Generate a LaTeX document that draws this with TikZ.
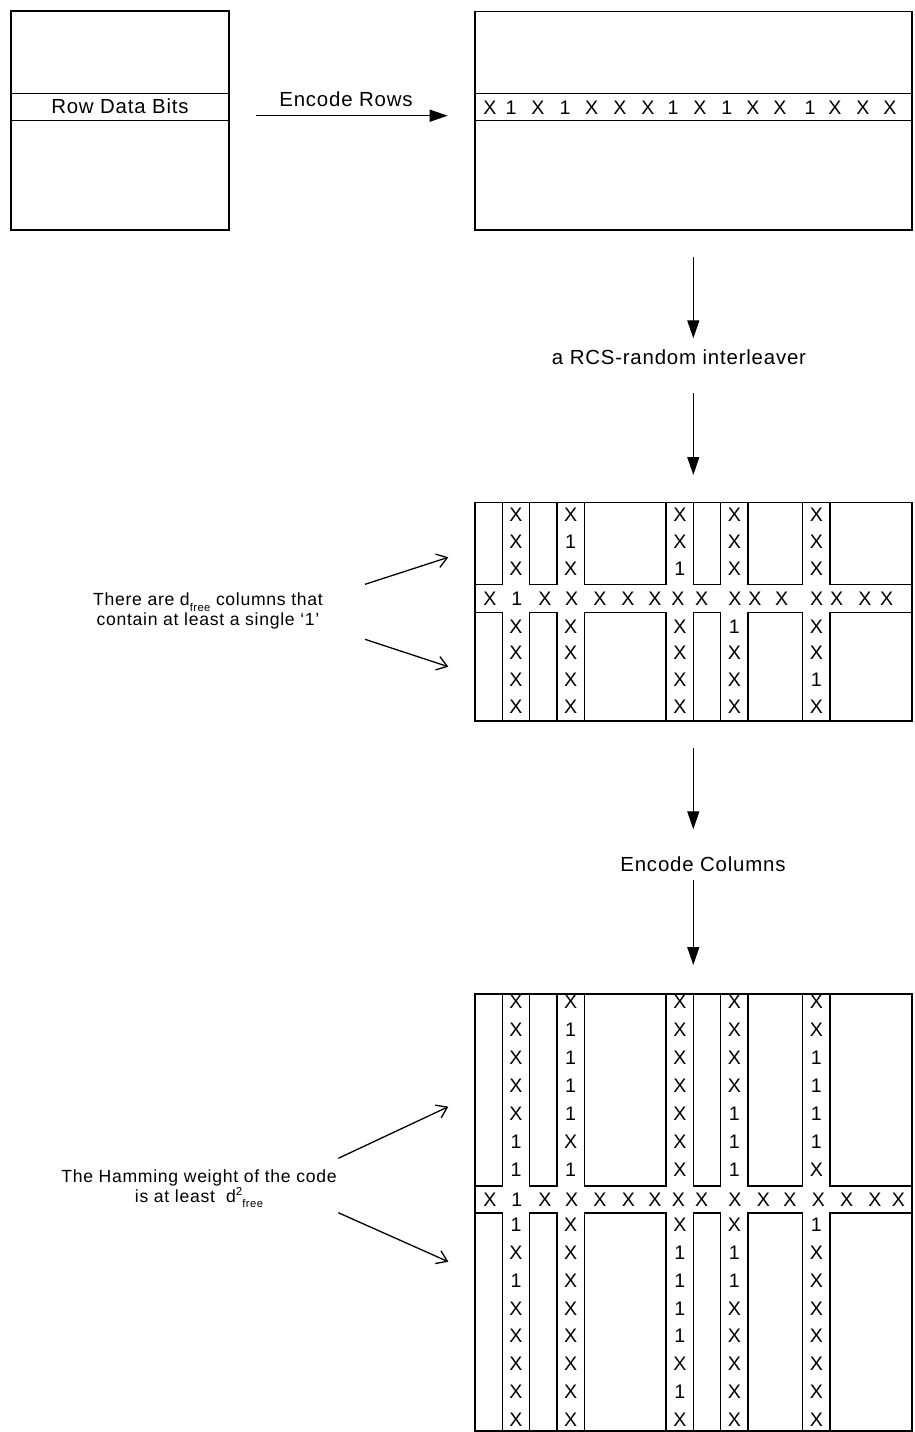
\documentclass[tikz,border=0pt]{standalone}
\usepackage{fontspec}
\setmainfont{Liberation Sans}[LetterSpace=4]
\usetikzlibrary{arrows.meta}
\newcommand{\lowsub}[1]{\raisebox{-0.3em}{\fontsize{5.6}{6}\selectfont #1}}
\newcommand{\highsup}[1]{\raisebox{0.42em}{\fontsize{5.8}{6}\selectfont #1}}

\begin{document}
\begin{tikzpicture}[
  x=0.5pt, y=-0.5pt,
  frame/.style={draw, line width=0.65pt},
  flow/.style={line width=0.65pt, -{Triangle[length=9pt, width=6pt]}},
  hint/.style={line width=0.65pt, -{Straight Barb[length=5pt, width=7pt]}},
  caption/.style={inner sep=0pt, anchor=base, font=\fontsize{10.2}{12}\selectfont},
  bit/.style={inner sep=0pt, font=\fontsize{9.8}{11}\selectfont},
  remark/.style={align=center, inner sep=0pt, font=\fontsize{8.8}{9.8}\selectfont}
]
\useasboundingbox (0,0) rectangle (915,1432);

% Data block before row coding
\node[frame, minimum width=109pt, minimum height=109.5pt] (src) at (120,120.5) {};
\draw[frame] (11,93.5) -- (229,93.5) (11,120.7) -- (229,120.7);
\node[caption] (rowbits) at (120,113.3) {Row Data Bits};

% Row coded block
\node[frame, minimum width=218.5pt, minimum height=109.25pt] (coded) at (693.5,120.75) {};
\draw[frame] (475,93.5) -- (912,93.5) (475,120.7) -- (912,120.7);
\foreach \x/\b [count=\i] in {490/X,511/1,538/X,565/1,591.7/X,620/X,648/X,673/1,
    700/X,726.7/1,753/X,780/X,810/1,835/X,863/X,890/X}
  \node[bit] (top-\i) at (\x,107.3) {\b};

% Encode rows
\coordinate (er-s) at (256,115.7);
\coordinate (er-e) at (447.7,115.7);
\draw[flow] (er-s) -- (er-e);
\node[caption] (encrows) at (346,106) {Encode Rows};

% Interleaver
\coordinate (v1-s) at (693.3,256.7);
\coordinate (v1-e) at (693.3,338.3);
\draw[flow] (v1-s) -- (v1-e);
\node[caption] (ilv) at (679,364) {a RCS-random interleaver};
\coordinate (v2-s) at (693.3,393.3);
\coordinate (v2-e) at (693.3,475);
\draw[flow] (v2-s) -- (v2-e);

% Interleaved block
\node[frame, minimum width=218.5pt, minimum height=109.35pt] (mixed) at (693.5,611.65) {};
\foreach \a/\b in {0/1,2/3,4/7,8/9,10/12,13/16} {
  \draw[frame] ({475+\a*27.3},502.3) rectangle ({475+\b*27.3},584.3);
  \draw[frame] ({475+\a*27.3},612.3) rectangle ({475+\b*27.3},721);
}
\foreach \x/\b [count=\i] in {490/X,516.7/1,545/X,571.7/X,600/X,628/X,655/X,678/X,
    701.7/X,735/X,755/X,781.7/X,816.7/X,836.7/X,865/X,886.7/X}
  \node[bit] (mrow-\i) at (\x,598.3) {\b};
\foreach \y/\a/\b/\c/\d/\e [count=\r] in {515/X/X/X/X/X, 542/X/1/X/X/X, 569/X/X/1/X/X,
    627/X/X/X/1/X, 653/X/X/X/X/X, 680/X/X/X/X/1, 707/X/X/X/X/X} {
  \node[bit] (m-\r-1) at (516,\y) {\a};
  \node[bit] (m-\r-3) at (570.6,\y) {\b};
  \node[bit] (m-\r-7) at (679.8,\y) {\c};
  \node[bit] (m-\r-9) at (734.4,\y) {\d};
  \node[bit] (m-\r-12) at (816.3,\y) {\e};
}

% Note on the interleaved block
\node[remark] (freecols) at (208,611) {There are d\lowsub{free} columns that\\contain at least a single `1'};
\coordinate (n1-s) at (365,584.3);
\coordinate (n1-e) at (448.3,557.3);
\coordinate (n2-s) at (365,639.3);
\coordinate (n2-e) at (448.3,666.7);
\draw[hint] (n1-s) -- (n1-e);
\draw[hint] (n2-s) -- (n2-e);

% Encode columns
\coordinate (v3-s) at (693.3,748.3);
\coordinate (v3-e) at (693.3,829.3);
\draw[flow] (v3-s) -- (v3-e);
\node[caption] (enccols) at (703,871.7) {Encode Columns};
\coordinate (v4-s) at (693.3,880);
\coordinate (v4-e) at (693.3,965);
\draw[flow] (v4-s) -- (v4-e);

% Product code block
\node[frame, minimum width=218.5pt, minimum height=218.5pt] (final) at (693.5,1212.5) {};
\foreach \a/\b in {0/1,2/3,4/7,8/9,10/12,13/16} {
  \draw[frame] ({475+\a*27.3},994) rectangle ({475+\b*27.3},1186);
  \draw[frame] ({475+\a*27.3},1213) rectangle ({475+\b*27.3},1431);
}
\foreach \x/\b [count=\i] in {490/X,516.7/1,545/X,571.7/X,600/X,628.3/X,655/X,678.3/X,
    701.7/X,735/X,763.3/X,790/X,818.3/X,846.7/X,875/X,898.3/X}
  \node[bit] (frow-\i) at (\x,1199.5) {\b};
\foreach \y/\a/\b/\c/\d/\e [count=\r] in {1001.7/X/X/X/X/X, 1029.7/X/1/X/X/X,
    1057.7/X/1/X/X/1, 1085.7/X/1/X/X/1, 1113.7/X/1/X/1/1, 1141.7/1/X/X/1/1,
    1169.7/1/1/X/1/X, 1225/1/X/X/X/1, 1252.8/X/X/1/1/X, 1280.6/1/X/1/1/X,
    1308.4/X/X/1/X/X, 1336.2/X/X/1/X/X, 1364/X/X/X/X/X, 1391.8/X/X/1/X/X,
    1419.6/X/X/X/X/X} {
  \node[bit] (f-\r-1) at (516,\y) {\a};
  \node[bit] (f-\r-3) at (570.6,\y) {\b};
  \node[bit] (f-\r-7) at (679.8,\y) {\c};
  \node[bit] (f-\r-9) at (734.4,\y) {\d};
  \node[bit] (f-\r-12) at (816.3,\y) {\e};
}

% Note on the product code
\node[remark] (hamming) at (199,1189) {The Hamming weight of the code\\is at least\ \ d\highsup{2}\lowsub{free}};
\coordinate (n3-s) at (338.3,1158.3);
\coordinate (n3-e) at (448.3,1106.7);
\coordinate (n4-s) at (338.3,1212.7);
\coordinate (n4-e) at (448.3,1261.7);
\draw[hint] (n3-s) -- (n3-e);
\draw[hint] (n4-s) -- (n4-e);

\end{tikzpicture}
\end{document}
